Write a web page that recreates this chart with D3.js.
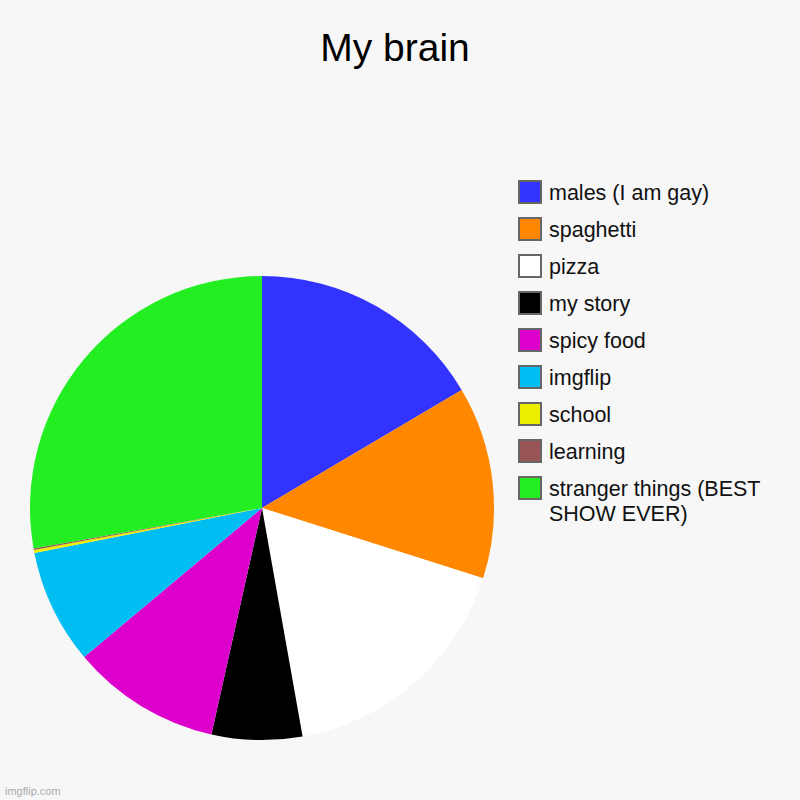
<!DOCTYPE html>
<html><head><meta charset="utf-8">
<script src="https://cdn.jsdelivr.net/npm/d3@7"></script>
<style>body{margin:0;background:#f7f7f7;}svg{display:block;}</style>
</head><body>
<svg id="c" width="800" height="800"></svg>
<script>
const categories = ["males (I am gay)","spaghetti","pizza","my story","spicy food","imgflip","school","learning","stranger things (BEST SHOW EVER)"];
const values = [16.5,13.4,17.3,6.3,10.4,8.0,0.2,0.1,27.8];
const colors = ["#3333ff","#ff8800","#ffffff","#000000","#dd00cc","#00bdf2","#eeee00","#995555","#22ee22"];
const legendLines = [["males (I am gay)"],["spaghetti"],["pizza"],["my story"],["spicy food"],["imgflip"],["school"],["learning"],["stranger things (BEST","SHOW EVER)"]];

const svg = d3.select("#c");
svg.append("rect").attr("width",800).attr("height",800).attr("fill","#f7f7f7");
svg.append("text").attr("x",395).attr("y",61).attr("text-anchor","middle")
  .attr("font-family","Liberation Sans, Arial, sans-serif").attr("font-size",39).attr("fill","#000").text("My brain");

const data = categories.map((c,i)=>({c, v:values[i], col:colors[i]}));
const pie = d3.pie().sort(null).value(d=>d.v);
const arc = d3.arc().innerRadius(0).outerRadius(232);
const g = svg.append("g").attr("transform","translate(262,508)");
g.selectAll("path").data(pie(data)).join("path").attr("d",arc).attr("fill",d=>d.data.col);

const y = d3.scalePoint().domain(categories).range([192,488]);
const lg = svg.append("g");
const rows = lg.selectAll("g").data(data).join("g").attr("transform",d=>`translate(0,${y(d.c)})`);
rows.append("rect").attr("x",519).attr("y",-11).attr("width",22).attr("height",22)
  .attr("fill",d=>d.col).attr("stroke","#666").attr("stroke-width",2);
rows.append("text").attr("x",549).attr("y",8)
  .attr("font-family","Liberation Sans, Arial, sans-serif").attr("font-size",21.5).attr("fill","#111")
  .each(function(d,i){
    const t = d3.select(this);
    legendLines[i].forEach((ln,j)=>t.append("tspan").attr("x",549).attr("dy", j===0?0:25).text(ln));
  });

svg.append("text").attr("x",5).attr("y",795).attr("font-family","Liberation Sans, Arial, sans-serif")
  .attr("font-size",11).attr("fill","#aaa").text("imgflip.com");
</script>
</body></html>
